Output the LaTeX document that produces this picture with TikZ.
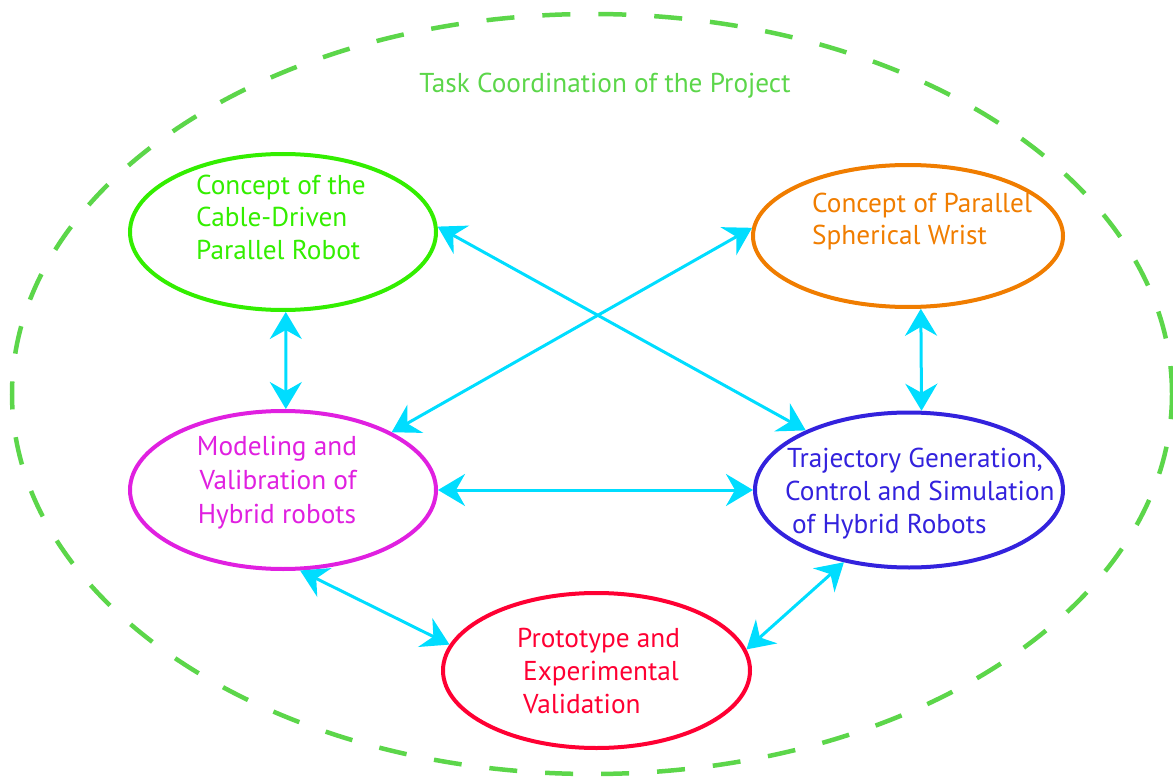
\documentclass[tikz,border=0pt]{standalone}
\usepackage{fontspec}
\setmainfont{PT Sans}
\usetikzlibrary{shapes.geometric,arrows.meta}
\definecolor{outergreen}{RGB}{92,214,74}
\definecolor{cgreen}{RGB}{51,238,0}
\definecolor{corange}{RGB}{240,125,0}
\definecolor{cmagenta}{RGB}{224,32,224}
\definecolor{cblue}{RGB}{51,34,221}
\definecolor{cred}{RGB}{255,0,51}
\definecolor{ccyan}{RGB}{0,221,255}
\tikzset{
  ell/.style={ellipse, line width=4pt, inner sep=0pt},
  lbl/.style={inner sep=0pt, font=\fontsize{27.3}{33}\selectfont},
  link/.style={draw=ccyan, line width=3pt, {Stealth[length=27pt,width=32pt,inset=9pt]}-{Stealth[length=27pt,width=32pt,inset=9pt]}}
}
\begin{document}
\begin{tikzpicture}[x=1pt,y=-1pt]
\useasboundingbox (0,0) rectangle (1173,778);
% outer dashed ellipse
\node[ellipse, draw=outergreen, line width=4.5pt, dash pattern=on 28pt off 28pt,
      minimum width=1160, minimum height=760, inner sep=0pt] (outer) at (592,394) {};
\node[lbl, text=outergreen, anchor=base] (title) at (605,93) {Task Coordination of the Project};
% ellipses
\node[ell, draw=cgreen, minimum width=306, minimum height=156] (g) at (283,232) {};
\node[ell, draw=corange, minimum width=310, minimum height=142] (o) at (908,236) {};
\node[ell, draw=cmagenta, minimum width=306, minimum height=158] (m) at (283,490) {};
\node[ell, draw=cblue, minimum width=308, minimum height=155] (b) at (909,490) {};
\node[ell, draw=cred, minimum width=307, minimum height=155] (r) at (596.5,670.5) {};
% texts
\node[lbl, text=cgreen, anchor=base west] (g1) at (196,195) {Concept of the};
\node[lbl, text=cgreen, anchor=base west] (g2) at (196,227) {Cable-Driven};
\node[lbl, text=cgreen, anchor=base west] (g3) at (196,260) {Parallel Robot};
\node[lbl, text=corange, anchor=base west] (o1) at (812,213) {Concept of Parallel};
\node[lbl, text=corange, anchor=base west] (o2) at (812,245) {Spherical Wrist};
\node[lbl, text=cmagenta, anchor=base] (m1) at (277,455) {Modeling and};
\node[lbl, text=cmagenta, anchor=base] (m2) at (278,489) {Valibration of};
\node[lbl, text=cmagenta, anchor=base] (m3) at (277,523) {Hybrid robots};
\node[lbl, text=cblue, anchor=base west] (b1) at (787,467) {Trajectory Generation,};
\node[lbl, text=cblue, anchor=base west] (b2) at (785,500) {Control and Simulation};
\node[lbl, text=cblue, anchor=base west] (b3) at (792,533) {of Hybrid Robots};
\node[lbl, text=cred, anchor=base west] (r1) at (517,647) {Prototype and};
\node[lbl, text=cred, anchor=base west] (r2) at (523,680) {Experimental};
\node[lbl, text=cred, anchor=base west] (r3) at (523,713) {Validation};
% connectors
\draw[link] (g.-88) -- (m.88);
\draw[link] (o.-80) -- (b.81);
\draw[link] (m.east) -- (b.west);
\draw[link] (g.2) -- (b.150);
\draw[link] (o.177) -- (m.28);
\draw[link] (m.-78) -- (r.170);
\draw[link] (b.-132) -- (r.8);
\end{tikzpicture}
\end{document}
